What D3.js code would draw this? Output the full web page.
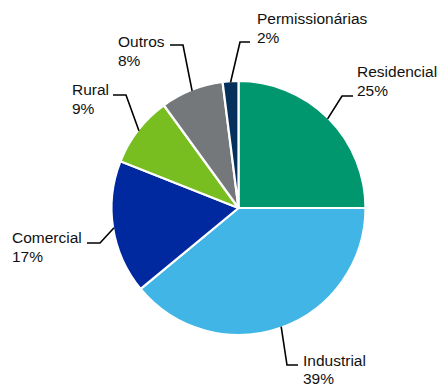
<!DOCTYPE html>
<html><head><meta charset="utf-8">
<script src="https://cdn.jsdelivr.net/npm/d3@7"></script>
<style>html,body{margin:0;padding:0;background:#fff;}svg{display:block;}</style>
</head><body>
<script>
// Data
const categories = ["Residencial","Industrial","Comercial","Rural","Outros","Permissionárias"];
const values = [25, 39, 17, 9, 8, 2];
const valueLabels = ["25%","39%","17%","9%","8%","2%"];
const colors = ["#00976F","#41B6E6","#0029A0","#78BE21","#75787B","#06305C"];

// Layout of labels: elbow point, end of horizontal, text anchor position, line gap
const labelLayout = [
  {elbow:[342,96], end:[353,96], tx:357, ty:77, gap:18.5},
  {elbow:[287,365], end:[298,365], tx:303, ty:366, gap:17.5},
  {elbow:[100,243], end:[87,243], tx:12, ty:243, gap:18.5},
  {elbow:[126,95], end:[113,95], tx:72, ty:95, gap:18.5},
  {elbow:[183,45], end:[170,45], tx:118, ty:47, gap:18.5},
  {elbow:[240,42], end:[250,42], tx:257, ty:24, gap:18.5}
];

const W = 438, H = 385;
const cx = 238.5, cy = 208, R = 127;

const svg = d3.select("body").append("svg").attr("width", W).attr("height", H);
const g = svg.append("g").attr("transform", `translate(${cx},${cy})`);

const pie = d3.pie().sort(null).value(d => d.v);
const data = categories.map((c,i) => ({c, v: values[i], lab: valueLabels[i], col: colors[i], i}));
const arcs = pie(data);
const arc = d3.arc().innerRadius(0).outerRadius(R);

g.selectAll("path.slice").data(arcs).join("path")
  .attr("class","slice")
  .attr("d", arc)
  .attr("fill", d => d.data.col)
  .attr("stroke", "#fff")
  .attr("stroke-width", 2.2)
  .attr("stroke-linejoin","round");

// leader lines and labels
const lines = svg.append("g");
arcs.forEach((a, i) => {
  const mid = (a.startAngle + a.endAngle) / 2;
  const sx = cx + Math.sin(mid) * (R - 1);
  const sy = cy - Math.cos(mid) * (R - 1);
  const L = labelLayout[i];
  lines.append("path")
    .attr("d", d3.line()([[sx, sy], L.elbow, L.end]))
    .attr("fill","none").attr("stroke","#000").attr("stroke-width",1.6);
  const t = svg.append("text")
    .attr("x", L.tx).attr("y", L.ty)
    .attr("font-family", "Liberation Sans, Arial, sans-serif")
    .attr("font-size", 15.5)
    .attr("fill", "#111");
  t.append("tspan").attr("x", L.tx).text(a.data.c);
  t.append("tspan").attr("x", L.tx).attr("dy", L.gap).text(a.data.lab);
});
</script>
</body></html>
